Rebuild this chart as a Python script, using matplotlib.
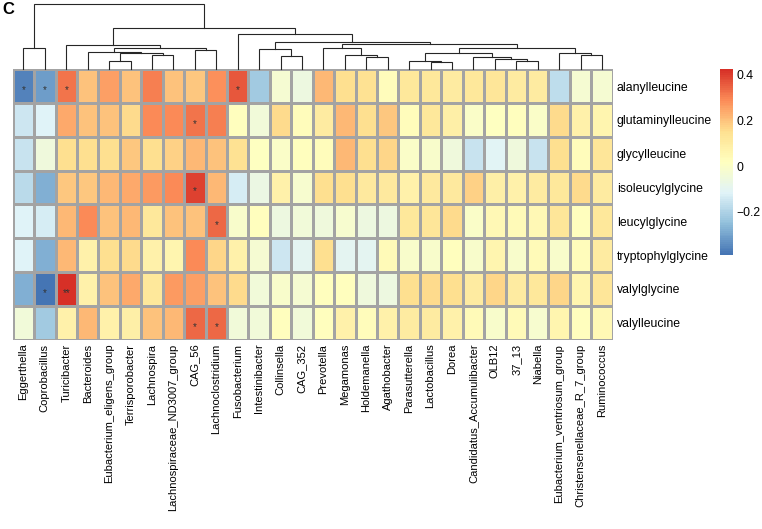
import numpy as np
import matplotlib
matplotlib.use("Agg")
import matplotlib.pyplot as plt
from matplotlib.colors import LinearSegmentedColormap

plt.rcParams['font.family'] = ['Liberation Sans', 'DejaVu Sans']

taxa = ["Eggerthella", "Coprobacillus", "Turicibacter", "Bacteroides",
        "Eubacterium_eligens_group", "Terrisporobacter", "Lachnospira",
        "Lachnospiraceae_ND3007_group", "CAG_56", "Lachnoclostridium",
        "Fusobacterium", "Intestinibacter", "Collinsella", "CAG_352",
        "Prevotella", "Megamonas", "Holdemanella", "Agathobacter",
        "Parasutterella", "Lactobacillus", "Dorea",
        "Candidatus_Accumulibacter", "OLB12", "37_13", "Niabella",
        "Eubacterium_ventriosum_group", "Christensenellaceae_R_7_group",
        "Ruminococcus"]

metabolites = ["alanylleucine", "glutaminylleucine", "glycylleucine",
               "isoleucylglycine", "leucylglycine", "tryptophylglycine",
               "valylglycine", "valylleucine"]

# correlation values, one row per metabolite, columns in taxa order
alanylleucine = [-0.36, -0.31, 0.32, 0.20, 0.26, 0.20, 0.31, 0.20, 0.19, 0.28,
                 0.36, -0.22, -0.03, -0.06, 0.22, 0.15, 0.14, 0.03, 0.12, 0.12,
                 0.10, 0.12, 0.13, 0.10, 0.10, -0.17, -0.03, -0.03]
glutaminylleucine = [-0.15, -0.12, 0.24, 0.20, 0.20, 0.16, 0.29, 0.29, 0.32, 0.31,
                     0.02, -0.04, 0.16, 0.03, 0.10, 0.22, 0.15, 0.19, 0.03, 0.12,
                     0.09, 0.00, 0.01, 0.02, 0.00, 0.16, 0.08, 0.06]
glycylleucine = [-0.16, -0.05, 0.15, 0.15, 0.15, 0.19, 0.15, 0.18, 0.22, 0.20,
                 0.14, 0.01, 0.00, 0.02, 0.03, 0.22, 0.15, 0.17, 0.00, -0.01,
                 -0.05, -0.16, -0.11, -0.05, -0.16, 0.15, 0.03, 0.13]
isoleucylglycine = [-0.18, -0.28, 0.19, 0.19, 0.22, 0.24, 0.27, 0.29, 0.40, 0.22,
                    -0.13, -0.07, 0.08, -0.02, 0.15, 0.15, 0.11, 0.11, 0.08, 0.11,
                    0.11, 0.18, 0.09, 0.08, 0.10, 0.12, 0.16, 0.10]
leucylglycine = [-0.12, -0.13, 0.22, 0.29, 0.20, 0.22, 0.12, 0.20, 0.20, 0.34,
                 -0.01, 0.02, -0.06, -0.04, -0.05, -0.02, -0.06, -0.06, 0.12, 0.13,
                 0.16, 0.00, 0.05, 0.04, 0.05, 0.13, 0.02, 0.12]
tryptophylglycine = [-0.12, -0.28, 0.22, 0.08, 0.15, 0.16, 0.08, 0.06, 0.29, 0.17,
                     0.08, -0.03, -0.15, -0.10, 0.15, -0.10, -0.10, 0.04, -0.01, -0.01,
                     0.02, -0.01, 0.06, -0.01, 0.04, -0.01, 0.03, 0.10]
valylglycine = [-0.28, -0.39, 0.425, 0.08, 0.20, 0.24, 0.12, 0.27, 0.26, 0.20,
                0.16, -0.04, -0.01, -0.03, 0.02, 0.02, -0.05, -0.06, 0.15, 0.16,
                0.15, 0.10, 0.17, 0.10, 0.12, 0.17, 0.06, 0.13]
valylleucine = [-0.04, -0.22, 0.08, 0.22, 0.08, 0.09, 0.20, 0.22, 0.34, 0.34,
                -0.04, -0.04, 0.02, -0.04, 0.02, 0.08, 0.03, 0.08, 0.10, 0.10,
                0.08, 0.04, -0.01, 0.04, -0.02, 0.06, 0.02, 0.05]

# significance marks: (metabolite index, taxon index, label)
stars = [(0, 0, "*"), (0, 1, "*"), (0, 2, "*"), (0, 10, "*"), (1, 8, "*"),
         (3, 8, "*"), (4, 9, "*"), (6, 1, "*"), (6, 2, "**"), (7, 8, "*"),
         (7, 9, "*")]

# column clustering: (left, right, height); leaves 0..27, new nodes from 28
merges = [(4, 5, 8.3), (6, 7, 14.3), (28, 29, 16.0), (3, 30, 17.0),
          (8, 9, 19.0), (31, 32, 21.6), (2, 33, 24.6), (0, 1, 21.0),
          (12, 13, 13.6), (11, 36, 20.3), (16, 17, 12.6), (15, 38, 14.0),
          (14, 39, 21.3), (19, 20, 7.0), (18, 41, 8.6), (23, 24, 8.3),
          (22, 43, 10.0), (21, 44, 12.6), (42, 45, 16.0), (26, 27, 14.3),
          (25, 47, 16.6), (46, 48, 21.6), (40, 49, 25.3), (37, 50, 27.0),
          (10, 51, 34.8), (34, 52, 41.0), (35, 53, 65.3)]

corr = np.array([alanylleucine, glutaminylleucine, glycylleucine,
                 isoleucylglycine, leucylglycine, tryptophylglycine,
                 valylglycine, valylleucine])

pal = ["#4575B4", "#91BFDB", "#E0F3F8", "#FFFFBF", "#FEE090", "#FC8D59", "#D73027"]
cmap = LinearSegmentedColormap.from_list("rdylbu", pal, N=100)
vmin, vmax = corr.min(), corr.max()

W, H = 762, 529
fig = plt.figure(figsize=(W / 100, H / 100), dpi=100)


def px_axes(x0, y0, x1, y1):
    return fig.add_axes([x0 / W, 1 - y1 / H, (x1 - x0) / W, (y1 - y0) / H])


nr, nc = corr.shape
ax = px_axes(12.7, 69.3, 612.7, 339.5)
ax.pcolormesh(np.arange(nc + 1), np.arange(nr + 1), corr, cmap=cmap,
              vmin=vmin, vmax=vmax, edgecolors="#a3a3a3", linewidth=0.75)
ax.set_xlim(0, nc)
ax.set_ylim(nr, 0)
ax.set_xticks(np.arange(nc) + 0.5)
ax.set_xticklabels(taxa, rotation=90, fontsize=8.0)
ax.set_yticks(np.arange(nr) + 0.5)
ax.set_yticklabels(metabolites, fontsize=8.8)
ax.yaxis.tick_right()
ax.tick_params(length=0, pad=3)
for s in ax.spines.values():
    s.set_visible(False)

for r, c, lab in stars:
    ax.text(c + 0.5, r + 0.62, lab, ha="center", va="center",
            fontsize=7, color="#333333")

# dendrogram
dax = px_axes(12.7, 4, 612.7, 69.3)
pos = {i: i + 0.5 for i in range(nc)}
hgt = {i: 0.0 for i in range(nc)}
for k, (a, b, h) in enumerate(merges):
    node = nc + k
    xa, xb = pos[a], pos[b]
    dax.plot([xa, xa, xb, xb], [hgt[a], h, h, hgt[b]], color="#262626",
             lw=0.8, solid_joinstyle="miter", clip_on=False)
    pos[node] = (xa + xb) / 2
    hgt[node] = h
dax.set_xlim(0, nc)
dax.set_ylim(0, merges[-1][2])
dax.axis("off")

# colour legend
cax = px_axes(720, 69.3, 732.7, 255)
cb = fig.colorbar(plt.cm.ScalarMappable(cmap=cmap, norm=plt.Normalize(vmin, vmax)),
                  cax=cax)
cb.outline.set_visible(False)
cb.set_ticks([-0.2, 0, 0.2, 0.4])
cb.set_ticklabels(["\u22120.2", "0", "0.2", "0.4"])
cax.tick_params(length=0, labelsize=8.8, pad=3)

fig.text(2 / W, 1 - 9.5 / H, "C", fontsize=12, fontweight="bold", va="center")

fig.savefig("out.png", dpi=100)
